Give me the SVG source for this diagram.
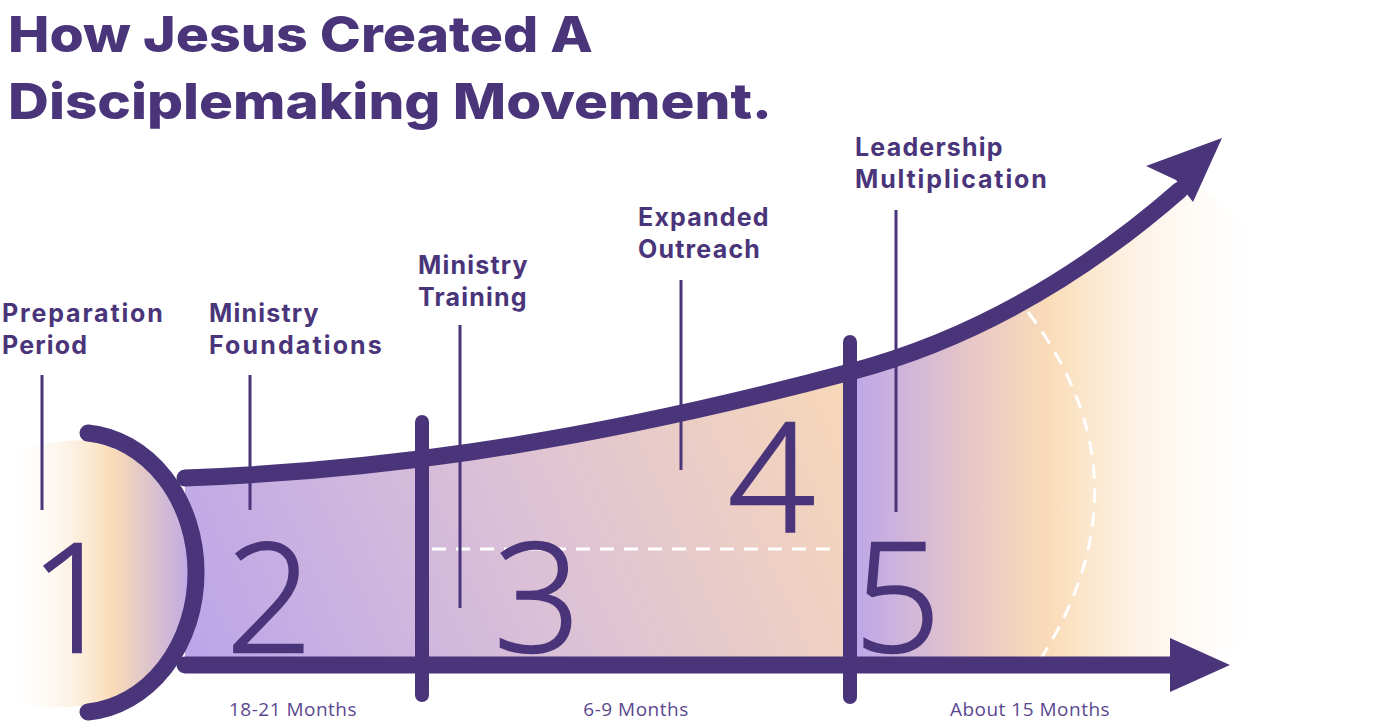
<svg xmlns="http://www.w3.org/2000/svg" width="1379" height="724" viewBox="0 0 1379 724">
<style>
.t{font-family:Inter,"Liberation Sans",sans-serif;font-weight:800;fill:#4a357a}
.l{font-family:Inter,"Liberation Sans",sans-serif;font-weight:700;font-size:25px;fill:#4a357a;letter-spacing:1.2px}
.n{font-family:"Open Sans","Liberation Sans",sans-serif;font-weight:300;font-size:152px;fill:#4a357a;stroke:#4a357a;stroke-width:2.5}
.m{font-family:"Open Sans","Liberation Sans",sans-serif;font-size:19px;fill:#5b4790;text-anchor:middle;letter-spacing:0.5px}
.lead{stroke:#4a357a;stroke-width:3;fill:none}
.thick{stroke:#4a357a;fill:none;stroke-linecap:round}
.dash{stroke:#fff;stroke-width:3;fill:none;stroke-dasharray:14 10}
</style>
<defs>
<linearGradient id="g1" x1="0" y1="0" x2="1" y2="0">
<stop offset="0" stop-color="#fff" stop-opacity="0"/>
<stop offset="0.55" stop-color="#f9dcb6"/>
<stop offset="1" stop-color="#b9a3ea"/>
</linearGradient>
<linearGradient id="g2" x1="185" y1="665" x2="850" y2="372" gradientUnits="userSpaceOnUse">
<stop offset="0" stop-color="#bba5ea"/>
<stop offset="0.5" stop-color="#dcc1d6"/>
<stop offset="1" stop-color="#f8d8b8"/>
</linearGradient>
<linearGradient id="g3" x1="850" y1="0" x2="1270" y2="0" gradientUnits="userSpaceOnUse">
<stop offset="0" stop-color="#bca6ea"/>
<stop offset="0.28" stop-color="#e6c6c8"/>
<stop offset="0.48" stop-color="#fadcb8"/>
<stop offset="1" stop-color="#fff" stop-opacity="0"/>
</linearGradient>
</defs>
<g id="title">
<text class="t" x="8" y="52" font-size="50" textLength="585" lengthAdjust="spacingAndGlyphs">How Jesus Created A</text>
<text class="t" x="8" y="119" font-size="50" textLength="764" lengthAdjust="spacingAndGlyphs">Disciplemaking Movement.</text>
</g>
<g id="fills">
<path d="M8,452 Q50,440 88,440 Q200,470 200,575 Q200,690 88,705 Q40,712 8,700 Q2,575 8,452 Z" fill="url(#g1)"/>
<path d="M185,478 C350,472 560,450 850,372 L850,665 L185,665 Z" fill="url(#g2)"/>
<path d="M850,372 C990,335 1100,260 1192,180 C1300,260 1378,340 1378,430 C1378,540 1300,620 1200,665 L850,665 Z" fill="url(#g3)"/>
<path class="dash" d="M432,549 L840,549"/>
<path class="dash" d="M1028,312 Q1155,480 1040,660"/>
</g>
<g id="connectors">
<path class="thick" stroke-width="17" d="M185,478 C350,472 560,450 850,372 C990,335 1100,260 1180,190"/>
<polygon fill="#4a357a" points="1222,138 1146,166 1176,180 1193,202"/>
<path class="thick" stroke-width="17" stroke-linecap="butt" d="M185,665 L1175,665"/>
<polygon fill="#4a357a" points="1230,665 1170,638 1170,692"/>
<path class="thick" stroke-width="17" d="M88,433 A118,140 0 0 1 88,712"/>
<path class="thick" stroke-width="14" d="M422,422 L422,695"/>
<path class="thick" stroke-width="14" d="M850,342 L850,697"/>
<path class="lead" d="M42,375 V510 M250,375 V510 M460,325 V608 M681,280 V470 M896,210 V512"/>
</g>
<g id="n1"><text class="l" x="2" y="322" textLength="162">Preparation</text><text class="l" x="2" y="354">Period</text><text class="n" x="30" y="652">1</text></g>
<g id="n2"><text class="l" x="209" y="322">Ministry</text><text class="l" x="209" y="354" textLength="174">Foundations</text><text class="n" x="226" y="652">2</text></g>
<g id="n3"><text class="l" x="418" y="274">Ministry</text><text class="l" x="418" y="306">Training</text><text class="n" x="494" y="652">3</text></g>
<g id="n4"><text class="l" x="638" y="226">Expanded</text><text class="l" x="638" y="258">Outreach</text><text class="n" x="728" y="532">4</text></g>
<g id="n5"><text class="l" x="855" y="156">Leadership</text><text class="l" x="855" y="188" textLength="193">Multiplication</text><text class="n" x="854" y="652">5</text></g>
<g id="months">
<text class="m" x="293" y="716">18-21 Months</text>
<text class="m" x="636" y="716">6-9 Months</text>
<text class="m" x="1030" y="716">About 15 Months</text>
</g>
</svg>
